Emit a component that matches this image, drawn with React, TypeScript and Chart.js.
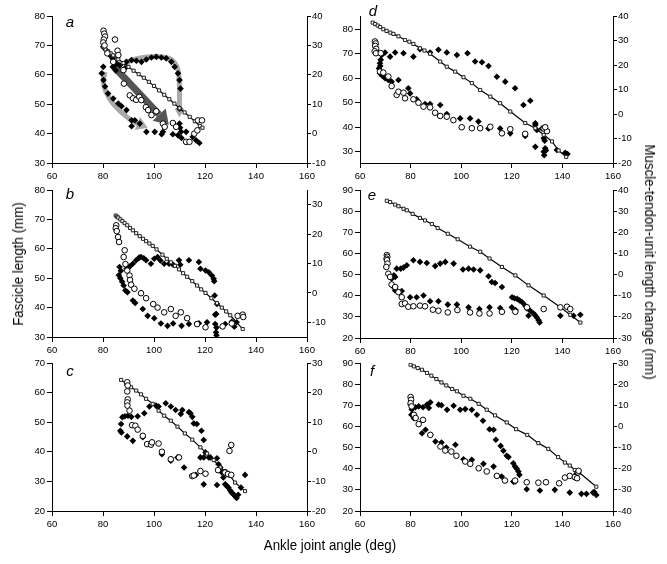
import React, { useEffect, useRef } from 'react';
import { Chart, registerables } from 'chart.js';
Chart.register(...registerables);

type P = [number, number];

const FONT = "'Liberation Sans', Arial, Helvetica, sans-serif";

const angleTicks = [60, 80, 100, 120, 140, 160];

// ---------- panel a ----------
const aOpen: P[] = [[80.2,75],[80.5,74],[80.8,73],[80.3,72],[80.1,71],[80.6,70],[84.7,72],[81.7,67.3],[85.7,68.2],[86,66.7],[84,64.4],[88,61.6],[88.2,57],[90.5,53],[91.8,52],[93,51.5],[94.2,52.5],[95,51.4],[96.8,49],[97.7,48],[99,46.3],[100.9,47.6],[103.5,43.4],[104.2,42.3],[107.4,43.6],[108.7,42.3],[112.6,37.2],[113.9,37.2],[115.8,40],[117,41.1],[117.2,44.5],[118.8,44.5]];
const aFilled: P[] = [[80.1,62.7],[79.5,60.5],[80.2,58.2],[80.8,56],[82,53.6],[84,51.9],[86,50.2],[87.3,49.3],[89.2,48],[91.2,44.5],[92.5,44.5],[94.4,43.4],[91.2,42.5],[97,40.6],[100.3,40.6],[103.5,40.6],[103,39.8],[107.4,39.8],[109.4,39.4],[110.6,40.6],[110,43.4],[110.2,42],[112.6,40.6],[115.2,38.9],[116.5,37.7],[117.8,36.8],[110.8,38.5],[80.1,69.5],[81.2,68.4],[82.7,66.7],[83.8,65.5],[85.3,63.9],[86.6,63.2],[88.6,62.2],[89.2,64.4],[91.2,65],[93.1,64.8],[95.1,64.4],[97,65.2],[99,65.9],[100.9,66.1],[102.9,65.9],[104.8,65.6],[106.8,64.4],[108.1,62.7],[109.4,60.5],[110,58.2],[110.4,55.3],[110,48.5],[84,62.7],[85,61.5]];
const aMtu: P[] = [[80,29.5],[81,28.6],[82,28],[83,27.3],[84,26.6],[86,25.3],[88,24],[90,22.7],[92,21.4],[94,20.2],[96,19],[98,17.6],[100,16.2],[102,14.7],[104,13.2],[106,11.7],[108,10.2],[110,8.6],[112,7.2],[114,5.7],[116,4.2],[118,2.6],[119,2]];
const aArrowLower: P[] = [[80.8,61],[80,58.5],[80.3,56],[82,52.5],[84.5,49.5],[88,46.5],[92,44],[97.5,42]];
const aArrowUpper: P[] = [[88,63.5],[91,65],[95,65.8],[100,66.3],[104.8,66],[107.5,65],[109,63],[109.8,60.5],[110,55],[110,45.5]];
const aArrowMain: P[] = [[83.5,63.5],[105.8,43]];

// ---------- panel b ----------
const bOpen: P[] = [[85.2,68],[85,67],[85.4,66],[85.9,64],[86.3,62.3],[88.5,59.5],[88.1,57.2],[88.8,54.8],[89.5,52.6],[90.4,50.9],[90.6,49.4],[91,47.8],[92.3,46.4],[94.9,44.9],[96.9,43.2],[99.7,41.2],[101.4,40],[104,38.4],[106.6,39.5],[108.5,37.2],[110.5,38.4],[113,36.4],[116.9,34.4],[120.2,33.3],[126.9,33.6],[130.5,34.6],[132.8,37.2],[134.8,37.6],[135,36.8]];
const bFilled: P[] = [[86.5,53.8],[87,52.5],[86.2,51],[86.8,50],[87.5,48.8],[88.1,47.5],[88.8,45.8],[89.6,45.2],[89.2,53.2],[90.5,54],[91.7,54.9],[93,56.1],[94.2,57],[94.9,57.2],[96,56.8],[96.9,56.1],[98.8,54.9],[100.1,56.6],[101.4,57.2],[102.5,56],[104,54.9],[105.9,54.9],[107.5,54.6],[109.8,56.1],[110.3,54.6],[113.7,56.1],[117.6,55.5],[118.2,53.2],[120.2,52.6],[121.5,52],[122.7,50.9],[123.4,49.8],[123.6,49],[123.8,44.1],[124.7,41.2],[124.4,37.8],[91.7,42.4],[92.6,41.6],[95.6,39.5],[97.5,37.2],[100.1,36.4],[102.7,34.6],[105.3,33.8],[107.5,34.6],[110.8,33.8],[113.7,34.4],[117.6,34.7],[120.8,35],[124,37.6],[124,34.4],[124.5,33.2],[124.3,31.6],[124.5,30.6],[127.9,34.4],[130.5,35.2],[132.4,35],[131.5,33.5]];
const bMtu: P[] = [[85,26.3],[85.5,25.9],[86,25.6],[86.8,25],[87.6,24.4],[88.5,23.7],[89.5,23],[90.6,22.1],[91.7,21.3],[93,20.3],[94.4,19.3],[95.7,18.4],[96.9,17.6],[98.2,16.8],[99.5,16],[101,14.8],[103.3,13],[105,11.6],[106.6,10.4],[108.2,9.2],[109.8,8],[111.4,6.7],[113,5.5],[115,4],[116.9,2.5],[118.5,1.2],[120.2,0],[122.5,-1.8],[124.7,-3.5],[126.6,-5],[128.3,-6.3],[129.9,-7.6],[134.8,-12.3]];

// ---------- panel c ----------
const cOpen: P[] = [[89.5,63.5],[89.7,62.4],[89.5,60.4],[89.7,57.7],[89.5,56.7],[89.6,55.6],[90.4,53.9],[91.4,49],[92.7,48.8],[93.6,47.5],[95.6,45.4],[97.3,42.6],[98.8,42.4],[99.2,43.2],[101.8,42.8],[103.1,40],[106.6,37.5],[109.8,38.1],[115,31.8],[115.6,32],[118.2,33.5],[120.2,32.6],[125.1,33.8],[127.9,33],[129,32.5],[129.6,40.3],[130.3,42.3],[130.3,32.2]];
const cFilled: P[] = [[87.1,49.4],[86.8,47.1],[87.2,46.5],[87.6,51.7],[88.6,52],[89.8,52.2],[91.1,51.8],[93.6,52],[96.2,53],[98.2,55.3],[100.8,55.6],[101.8,55.3],[104.6,56.4],[106.6,55.3],[108.5,54.1],[111.1,54.1],[110.5,52.8],[113.7,53.4],[114.3,53],[115,51.8],[115.6,49.6],[116.8,49.4],[118.6,47.1],[119.5,44],[120.2,39.8],[122.1,38.1],[124.7,37.8],[125.3,35.8],[126,34.7],[126.6,33],[127.2,31.3],[127.9,29],[128.5,28.5],[129.2,27.9],[129.9,26.9],[130.5,26.2],[131.2,25.6],[131.8,25],[132.4,24.4],[133,25.5],[134.1,27.9],[135.7,32.2],[89.5,45.2],[91.7,43.7],[95.6,44.9],[103.1,39.2],[106.6,37],[109.2,38.1],[111.8,34.7],[116.4,32.2],[119.5,29],[124.7,28.8],[118.2,38.1],[119.5,38.1],[121.5,38.1]];
const cMtu: P[] = [[87.1,24.3],[89.1,23],[91,21.8],[93,20.7],[94.9,19.4],[96.9,17.9],[99.5,16.2],[101.8,13.9],[104,12.2],[106.6,10.5],[109.2,8.5],[112.1,6.2],[115,4.1],[118.2,1.5],[120.8,-0.6],[123.4,-2.8],[126,-5.3],[127.9,-6.5],[129.9,-8.2],[131.8,-10.4],[135.7,-13.3]];

// ---------- panel d ----------
const dOpen: P[] = [[65.9,75],[66.2,74.2],[66,73.2],[66.4,72],[65.8,71],[66.3,70.2],[68.2,70.2],[67.9,62.7],[69.2,62.3],[71.2,60.7],[72.5,56.8],[74.5,53.2],[75.2,54.5],[77.2,54.1],[77.8,51.8],[81.1,51.4],[83.1,50],[85.1,48.4],[87.7,48.1],[89.7,45.9],[91.7,44.6],[94.3,44.3],[96.9,42.9],[100.2,40],[104.2,39.6],[107.5,39.6],[111.5,40.2],[116.1,37.5],[119.4,39.2],[125.3,37.3],[132.6,39.5],[133.9,38.4],[133.2,40]];
const dFilled: P[] = [[67.9,66.1],[68.2,67.5],[68.6,69.5],[69.9,70.5],[71.9,68.8],[73.9,70.5],[77.2,70.2],[81.1,68.8],[83.7,71.8],[87.7,70.5],[91,71.6],[94.3,70.5],[98.3,69.5],[102.5,70.2],[105.5,66.8],[108.2,66.5],[110.8,65],[114.1,60.6],[117.4,58.6],[121.3,55.9],[124.6,49.1],[127.3,50.8],[129.3,40.9],[129.9,38.9],[131.9,39.5],[129.3,32],[132.6,35.5],[133,34.5],[133.2,31.4],[133.5,30.5],[132.6,30],[132.8,28.6],[137.8,30.7],[141.1,29.6],[142,29.1],[67.9,62],[68.8,61],[69.9,60],[71.2,59.3],[72.5,58.6],[75.2,59.3],[79.1,55.9],[79.8,53.8],[82.4,51.4],[85.7,49.5],[87.7,49.5],[91.7,49.1],[94.3,45.4],[99.6,43.6],[103.5,43.6],[106.8,42.3],[110.8,39.5],[115.4,39.5],[119.4,37.5],[125.3,36.4],[129.3,41.6],[67.5,64],[68,65]];
const dMtu: P[] = [[65,37.3],[66,36.7],[67,36.1],[68,35.5],[69.2,34.6],[70.5,33.9],[72,33.2],[73.2,32.7],[75.2,31.7],[77.8,30.2],[79.5,29.5],[81.1,28.6],[83.7,26.8],[85.5,25.9],[87.7,24.6],[91.7,21.4],[94.3,19.3],[97.6,17.3],[100.9,15],[104.2,12.6],[107.5,9.8],[111.5,7.1],[115.4,4.4],[119.4,1],[125.3,-3.7],[129.3,-5.8],[132.6,-8.5],[135.9,-11.2],[138.5,-14.9],[141.5,-17.5]];

// ---------- panel e ----------
const eOpen: P[] = [[70.6,59.2],[70.8,58.4],[70.5,57.5],[70.7,56.8],[70.9,55.2],[70.4,53.6],[71.2,50.4],[71.9,48.9],[72.5,45.3],[73.9,44.1],[75.2,41.7],[76.5,39.3],[76.5,36.1],[77.8,36.4],[79.1,34.8],[81.1,35],[83.7,35.3],[85.7,35],[88.8,33.4],[91,32.9],[94.7,32.1],[98.5,33.2],[103.5,32.1],[107.2,31.6],[111.2,31.6],[116.1,32.4],[121.4,32.4],[126,34.5],[132.6,33.7],[139.2,34.5],[141.8,34.8],[143.1,33.7]];
const eFilled: P[] = [[73.9,48.9],[73.4,49.6],[74.5,52.8],[76.1,52.8],[77.2,53.3],[78.5,54.4],[81.1,56.8],[83.7,56],[86.4,55.5],[89.7,54],[91.7,55.2],[93.7,56],[97,55.2],[100.7,52.4],[102.9,52.8],[104.9,52.4],[107.5,52],[110.8,49.2],[112.1,46.5],[113.4,46],[116.1,44.1],[120.1,39.3],[121,38.8],[122.1,38.5],[123,37.8],[124.1,36.9],[125.3,35.3],[126,34],[127.3,32.9],[128.6,31.6],[129.2,30.8],[129.9,29.7],[130.6,28.4],[131,27.3],[139.2,30.5],[144.4,30.5],[147.1,31],[72.5,48.1],[73.2,44.1],[73.9,42.5],[76.5,42.2],[79.8,39.3],[82.4,39.3],[85.1,40.1],[87.7,37.4],[91,37.4],[94.7,35.8],[98.3,35.8],[102.9,34.5],[107.2,33.7],[111.2,34.5],[115.4,34.2],[120,34.5],[121.5,33.2],[126.6,30.5]];
const eMtu: P[] = [[70.6,34.9],[71.9,34.3],[73.9,33.1],[75.2,32.3],[77.2,31.1],[78.5,30.4],[80.8,28.7],[83.7,26.8],[85.7,25.6],[88.4,23.9],[90.7,22],[94.7,19.3],[98.6,16.7],[103.5,13.2],[107.5,10.8],[111.2,7.6],[116.1,3.6],[121.4,-0.4],[126.6,-5.1],[132.6,-9.9],[139.2,-15.5],[143.1,-19],[147.1,-22.7]];

// ---------- panel f ----------
const fOpen: P[] = [[80,73.9],[80.2,72.6],[80,71],[80.4,69.5],[81.3,65.5],[82,64],[83.2,61.1],[84.9,63.1],[87.8,56],[91.8,50.5],[93.7,48.6],[96.1,48.1],[98.1,46.1],[101.6,43.4],[103.6,42.3],[106.9,40.2],[110.1,38.7],[114.1,36.6],[117.3,34.4],[121.3,34.4],[125.9,33.6],[130.5,33.4],[133.5,33.6],[138.7,33.1],[141,35.8],[142.9,36.6],[144.9,36],[146.2,38.2],[146.4,39],[145.8,35.5]];
const fFilled: P[] = [[80,70.3],[80.5,68],[80.3,65.5],[81.3,63.9],[81.9,69.1],[83.2,69.5],[84.9,69.1],[86.5,70.3],[87.8,71.4],[87.2,68.7],[91.1,70.3],[92.2,70],[94.4,67.9],[97,69.8],[99.6,67.9],[101.6,68.2],[104.2,67.9],[106.2,65.5],[108.6,62.7],[111.2,58.7],[112.8,58.4],[113.7,53.7],[115.6,50.8],[116.7,48.5],[118,46.1],[118.7,45.5],[120.6,42.6],[121.3,41],[122,40],[122.6,38.7],[123,37.1],[121.3,33.9],[125.9,30.3],[131.1,29.7],[137,30],[142.9,28.7],[147.5,28.1],[149.5,28.1],[152.1,28.7],[152.6,29],[153.4,27.6],[84.5,56.8],[85.9,58.4],[87.8,56],[89.8,52.9],[92.2,52.4],[94.1,50],[97.7,51.3],[100.9,44.5],[104.2,44.2],[108.8,42.3],[112.8,41],[116,36.3],[120.6,33.9],[146,38.5],[145.5,37.5]];
const fMtu: P[] = [[80,29.2],[81.3,28.4],[82.8,27.6],[84.5,26.8],[86.5,25.3],[88.2,24],[90.2,22.4],[92.2,20.8],[94.1,19.4],[96.4,17.7],[98.3,16.6],[100.9,14.5],[103.6,13.1],[106.9,10.7],[110.1,7.9],[113.4,5.2],[118,1.9],[121.7,-1.3],[126.1,-4],[130.5,-7.9],[134.4,-10.6],[138.3,-14.5],[141,-17.1],[142.9,-18.5],[144.9,-20.6],[146.2,-21.3],[153.4,-28.5]];

// ---------- axis ranges / ticks ----------
const aLeftTicks = [30, 40, 50, 60, 70, 80];
const aRightTicks = [-10, 0, 10, 20, 30, 40];
const bLeftTicks = [30, 40, 50, 60, 70, 80];
const bRightTicks = [-10, 0, 10, 20, 30];
const cLeftTicks = [20, 30, 40, 50, 60, 70];
const cRightTicks = [-20, -10, 0, 10, 20, 30];
const dLeftTicks = [30, 40, 50, 60, 70, 80];
const dRightTicks = [-20, -10, 0, 10, 20, 30, 40];
const eLeftTicks = [20, 30, 40, 50, 60, 70, 80, 90];
const eRightTicks = [-30, -20, -10, 0, 10, 20, 30, 40];
const fLeftTicks = [20, 30, 40, 50, 60, 70, 80, 90];
const fRightTicks = [-40, -30, -20, -10, 0, 10, 20, 30];

interface Box { left: number; top: number; width: number; height: number; pl: number; pr: number; pt: number; pb: number; lx: number; ly: number }
interface Arrow { pts: P[]; color: string; width: number; head: number; half: number }
interface PanelDef {
  letter: string;
  open: P[]; filled: P[]; mtu: P[];
  left: [number, number]; leftTicks: number[];
  right: [number, number]; rightTicks: number[];
  arrows: Arrow[];
  box: Box;
}

const panels: PanelDef[] = [
  { letter: 'a', open: aOpen, filled: aFilled, mtu: aMtu, left: [30, 80], leftTicks: aLeftTicks, right: [-10, 40], rightTicks: aRightTicks,
    arrows: [
      { pts: aArrowLower, color: '#a9a9a9', width: 5, head: 11, half: 7 },
      { pts: aArrowUpper, color: '#a9a9a9', width: 5, head: 9, half: 5 },
      { pts: aArrowMain, color: '#555555', width: 7, head: 14, half: 9 },
    ],
    box: { left: 0, top: 0, width: 335, height: 192, pl: 52, pr: 307, pt: 16, pb: 163, lx: 18, ly: 7 } },
  { letter: 'b', open: bOpen, filled: bFilled, mtu: bMtu, left: [30, 80], leftTicks: bLeftTicks, right: [-15, 35], rightTicks: bRightTicks, arrows: [],
    box: { left: 0, top: 174, width: 335, height: 192, pl: 52, pr: 307, pt: 16, pb: 163, lx: 18, ly: 5 } },
  { letter: 'c', open: cOpen, filled: cFilled, mtu: cMtu, left: [20, 70], leftTicks: cLeftTicks, right: [-20, 30], rightTicks: cRightTicks, arrows: [],
    box: { left: 0, top: 347, width: 335, height: 192, pl: 52, pr: 307, pt: 16, pb: 164, lx: 18, ly: 9 } },
  { letter: 'd', open: dOpen, filled: dFilled, mtu: dMtu, left: [25.4, 85.4], leftTicks: dLeftTicks, right: [-20, 40], rightTicks: dRightTicks, arrows: [],
    box: { left: 330, top: 0, width: 315, height: 192, pl: 30, pr: 283, pt: 16, pb: 163, lx: 13, ly: -4 } },
  { letter: 'e', open: eOpen, filled: eFilled, mtu: eMtu, left: [20, 90], leftTicks: eLeftTicks, right: [-30, 40], rightTicks: eRightTicks, arrows: [],
    box: { left: 330, top: 174, width: 315, height: 192, pl: 30, pr: 283, pt: 16, pb: 164, lx: 12, ly: 6 } },
  { letter: 'f', open: fOpen, filled: fFilled, mtu: fMtu, left: [20, 90], leftTicks: fLeftTicks, right: [-40, 30], rightTicks: fRightTicks, arrows: [],
    box: { left: 330, top: 347, width: 315, height: 192, pl: 30, pr: 283, pt: 16, pb: 164, lx: 12, ly: 9 } },
];

const toXY = (pts: P[]) => pts.map(([x, y]) => ({ x, y }));

function buildConfig(p: PanelDef): any {
  const tickFont = { family: FONT, size: 9.5 };
  const letterPlugin = {
    id: 'letter_' + p.letter,
    afterDraw(chart: any) {
      const ctx = chart.ctx;
      const a = chart.chartArea;
      ctx.save();
      ctx.font = `italic 15px ${FONT}`;
      ctx.fillStyle = '#000';
      ctx.textAlign = 'center';
      ctx.textBaseline = 'middle';
      ctx.fillText(p.letter, a.left + p.box.lx, a.top + p.box.ly);
      ctx.restore();
    },
  };
  const arrowPlugin = {
    id: 'arrows_' + p.letter,
    beforeDatasetsDraw(chart: any) {
      if (!p.arrows.length) return;
      const ctx = chart.ctx;
      const xs = chart.scales.x;
      const ys = chart.scales.y;
      ctx.save();
      for (const ar of p.arrows) {
        const px = ar.pts.map(([x, y]) => [xs.getPixelForValue(x), ys.getPixelForValue(y)]);
        const n = px.length;
        const [tx, ty] = px[n - 1];
        const [sx, sy] = px[n - 2];
        const len = Math.hypot(tx - sx, ty - sy) || 1;
        const ux = (tx - sx) / len;
        const uy = (ty - sy) / len;
        const bx = tx - ux * ar.head;
        const by = ty - uy * ar.head;
        ctx.strokeStyle = ar.color;
        ctx.lineWidth = ar.width;
        ctx.lineJoin = 'round';
        ctx.lineCap = 'butt';
        ctx.beginPath();
        ctx.moveTo(px[0][0], px[0][1]);
        if (n > 2) {
          for (let i = 1; i < n - 1; i++) {
            const mx = i === n - 2 ? bx : (px[i][0] + px[i + 1][0]) / 2;
            const my = i === n - 2 ? by : (px[i][1] + px[i + 1][1]) / 2;
            ctx.quadraticCurveTo(px[i][0], px[i][1], mx, my);
          }
        } else {
          ctx.lineTo(bx, by);
        }
        ctx.stroke();
        ctx.fillStyle = ar.color;
        ctx.beginPath();
        ctx.moveTo(tx, ty);
        ctx.lineTo(bx - uy * ar.half, by + ux * ar.half);
        ctx.lineTo(bx + uy * ar.half, by - ux * ar.half);
        ctx.closePath();
        ctx.fill();
      }
      ctx.restore();
    },
  };
  return {
    type: 'scatter',
    data: {
      datasets: [
        { label: 'open', data: toXY(p.open), yAxisID: 'y', pointStyle: 'circle', pointRadius: 2.8,
          pointBackgroundColor: '#fff', pointBorderColor: '#000', pointBorderWidth: 1, backgroundColor: '#fff', borderColor: '#000' },
        { label: 'mtu', data: toXY(p.mtu), yAxisID: 'y1', showLine: true, borderColor: '#000', borderWidth: 1.2,
          pointStyle: 'rect', pointRadius: 2.2, pointBackgroundColor: '#fff', pointBorderColor: '#222', pointBorderWidth: 1, backgroundColor: '#fff' },
        { label: 'filled', data: toXY(p.filled), yAxisID: 'y', pointStyle: 'rectRot', pointRadius: 3.3,
          pointBackgroundColor: '#000', pointBorderColor: '#000', pointBorderWidth: 0, backgroundColor: '#000', borderColor: '#000' },
      ],
    },
    options: {
      responsive: false,
      animation: false,
      devicePixelRatio: 1,
      events: [],
      plugins: { legend: { display: false }, tooltip: { enabled: false } },
      layout: { padding: { top: p.box.pt, left: 0, right: 0, bottom: 0 } },
      scales: {
        x: {
          type: 'linear', position: 'bottom', min: 60, max: 160,
          afterBuildTicks: (s: any) => { s.ticks = angleTicks.map((v) => ({ value: v })); },
          afterFit: (s: any) => { s.height = p.box.height - p.box.pb; },
          grid: { display: true, drawOnChartArea: false, drawTicks: true, tickLength: 5, color: '#000', lineWidth: 1 },
          border: { display: true, color: '#000', width: 1 },
          ticks: { color: '#000', font: tickFont, padding: 3, maxRotation: 0, autoSkip: false },
        },
        y: {
          type: 'linear', position: 'left', min: p.left[0], max: p.left[1],
          afterBuildTicks: (s: any) => { s.ticks = p.leftTicks.map((v) => ({ value: v })); },
          afterFit: (s: any) => { s.width = p.box.pl; },
          grid: { display: true, drawOnChartArea: false, drawTicks: true, tickLength: 5, color: '#000', lineWidth: 1 },
          border: { display: true, color: '#000', width: 1 },
          ticks: { color: '#000', font: tickFont, padding: 2, autoSkip: false },
        },
        y1: {
          type: 'linear', position: 'right', min: p.right[0], max: p.right[1],
          afterBuildTicks: (s: any) => { s.ticks = p.rightTicks.map((v) => ({ value: v })); },
          afterFit: (s: any) => { s.width = p.box.width - p.box.pr; },
          grid: { display: true, drawOnChartArea: false, drawTicks: true, tickLength: 4, color: '#000', lineWidth: 1 },
          border: { display: true, color: '#000', width: 1 },
          ticks: { color: '#000', font: tickFont, padding: 1, autoSkip: false },
        },
      },
    },
    plugins: [arrowPlugin, letterPlugin],
  };
}

const titleStyle: React.CSSProperties = {
  position: 'absolute',
  fontFamily: FONT,
  fontSize: 14,
  color: '#000',
  whiteSpace: 'nowrap',
  lineHeight: '16px',
};

export default function App() {
  const refs = useRef<(HTMLCanvasElement | null)[]>([]);
  useEffect(() => {
    const charts = panels.map((p, i) => new Chart(refs.current[i] as HTMLCanvasElement, buildConfig(p)));
    return () => { charts.forEach((c) => c.destroy()); };
  }, []);
  return (
    <div style={{ position: 'absolute', left: 0, top: 0, width: 667, height: 564, background: '#fff', overflow: 'hidden' }}>
      {panels.map((p, i) => (
        <canvas
          key={p.letter}
          ref={(el) => { refs.current[i] = el; }}
          width={p.box.width}
          height={p.box.height}
          style={{ position: 'absolute', left: p.box.left, top: p.box.top, width: p.box.width, height: p.box.height }}
        />
      ))}
      <div style={{ ...titleStyle, left: 18, top: 264, transform: 'translate(-50%, -50%) rotate(-90deg) scaleX(0.95)' }}>Fascicle length (mm)</div>
      <div style={{ ...titleStyle, left: 650, top: 262, transform: 'translate(-50%, -50%) rotate(90deg) scaleX(0.95)' }}>Muscle-tendon-unit length change (mm)</div>
      <div style={{ ...titleStyle, left: 330, top: 545, transform: 'translate(-50%, -50%) scaleX(0.95)' }}>Ankle joint angle (deg)</div>
    </div>
  );
}
